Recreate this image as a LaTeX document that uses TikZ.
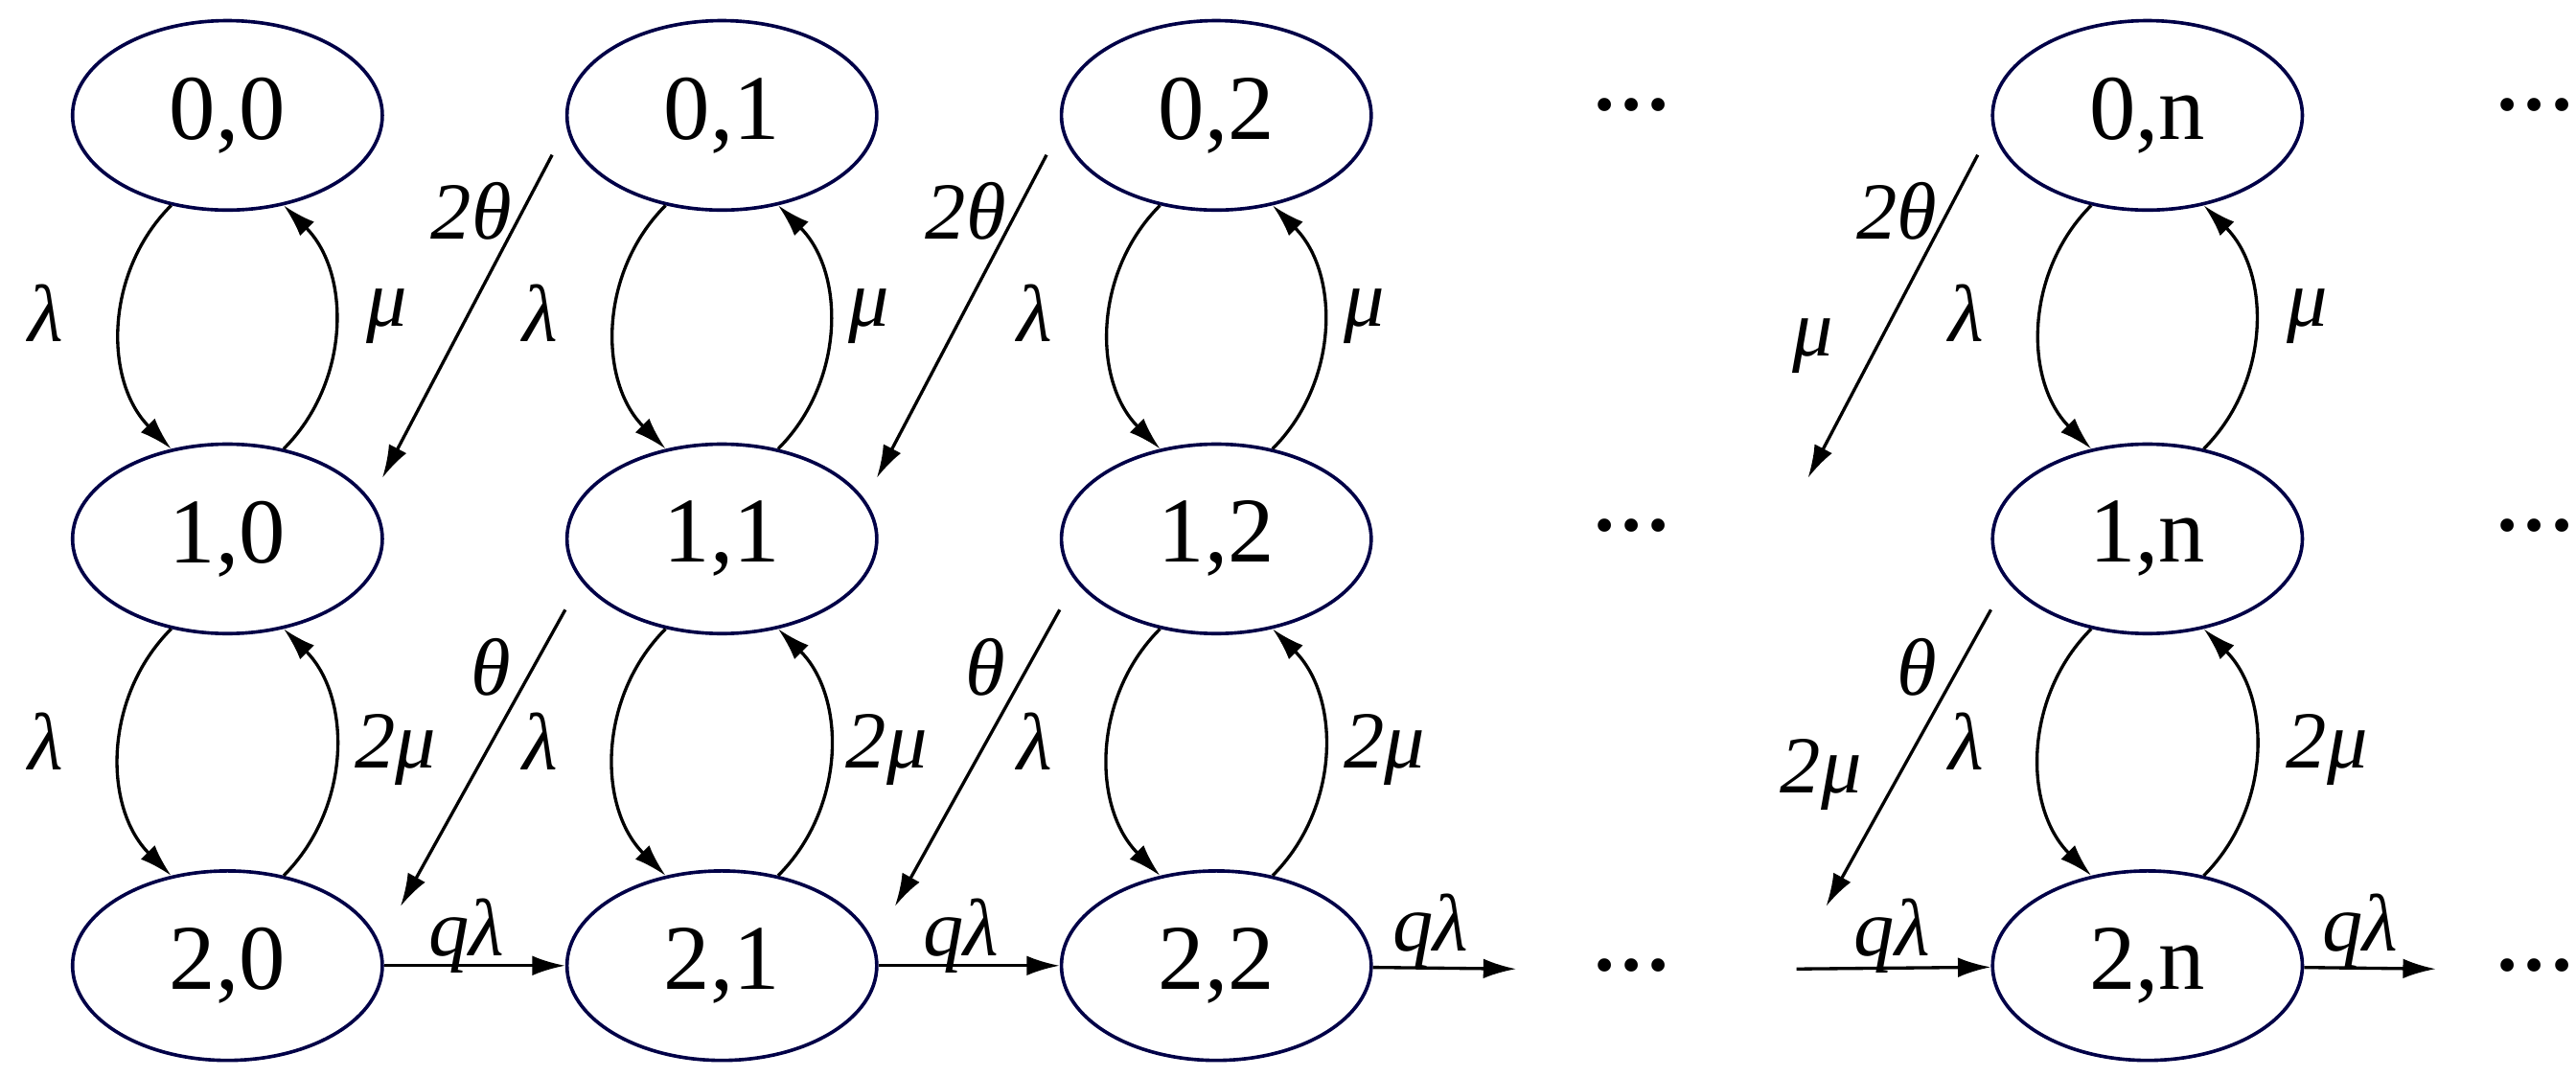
\documentclass[tikz,border=0pt]{standalone}
\usepackage{fontspec}
\setmainfont{Liberation Serif}
\usetikzlibrary{arrows.meta,calc,shapes.geometric}
\begin{document}
\begin{tikzpicture}[x={(0.02cm,0)},y={(0,-0.02cm)},
  st/.style={ellipse,draw=black!60!blue!70!black,line width=1.2pt,minimum width=3.76cm,minimum height=2.3cm,inner sep=0pt,font=\fontsize{32}{36}\selectfont},
  arr/.style={line width=1.1pt,-{Latex[length=0.4cm,width=0.24cm]}},
  lb/.style={font=\fontsize{28}{32}\selectfont\itshape,inner sep=0pt},
  dots/.style={font=\fontsize{28}{32}\selectfont\bfseries,inner sep=0pt}]
\useasboundingbox (0,0) rectangle (1563,653);
\foreach \c/\x in {0/138,1/438,2/738,n/1303}{
  \node[st] (a\c) at (\x,70) {0,\c};
  \node[st] (b\c) at (\x,327) {1,\c};
  \node[st] (d\c) at (\x,586) {2,\c};
  \draw[arr] (a\c.238) to[bend right=45] (b\c.122);
  \draw[arr] (b\c.58) to[bend right=45] (a\c.302);
  \draw[arr] (b\c.238) to[bend right=45] (d\c.122);
  \draw[arr] (d\c.58) to[bend right=45] (b\c.302);
  \node[lb] at (\x-110,190) {λ};
  \node[lb] at (\x-110,450) {λ};
}
\node[lb] at (235,192) {μ};
\node[lb] at (527,192) {μ};
\node[lb] at (828,192) {μ};
\node[lb] at (1400,192) {μ};
\node[lb] at (240,455) {2μ};
\node[lb] at (538,455) {2μ};
\node[lb] at (840,455) {2μ};
\node[lb] at (1412,455) {2μ};
% diagonal arrows
\foreach \c/\x in {1/438,2/738,n/1303}{
  \coordinate (s\c) at (\x-103,94);
  \coordinate (e\c) at (\x-206,290);
  \draw[arr] (s\c) -- (e\c);
  \node[lb] at (\x-152,128) {2θ};
  \coordinate (t\c) at (\x-95,370);
  \coordinate (f\c) at (\x-195,550);
  \draw[arr] (t\c) -- (f\c);
  \node[lb] at (\x-140,405) {θ};
  \node[lb] at (\x-155,568) {\textit{q}λ};
}
\node[lb] at (1100,210) {μ};
\node[lb] at (1105,470) {2μ};
% horizontal arrows
\draw[arr] (d0) -- (d1);
\draw[arr] (d1) -- (d2);
\coordinate (o2) at (920,588);
\draw[arr] (d2) -- (o2);
\node[lb] at (868,565) {\textit{q}λ};
\coordinate (in) at (1090,588);
\draw[arr] (in) -- (dn);
\coordinate (on) at (1478,588);
\draw[arr] (dn) -- (on);
\node[lb] at (1432,565) {\textit{q}λ};
\foreach \y in {70,325,592}{
  \node[dots] at (990,\y) {···};
  \node[dots] at (1538,\y) {···};
}
\end{tikzpicture}
\end{document}
